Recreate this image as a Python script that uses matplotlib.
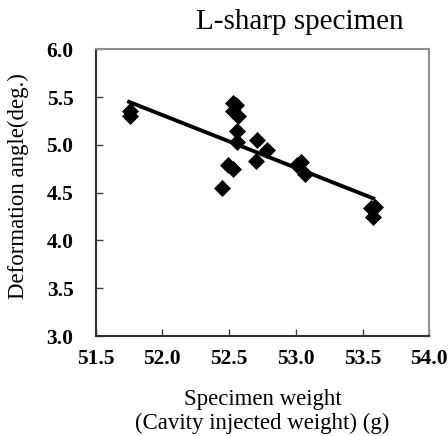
import matplotlib.pyplot as plt
import numpy as np

weight = np.array([51.76, 51.76, 52.53, 52.55, 52.53, 52.57, 52.56, 52.56,
                   52.71, 52.78, 52.70, 52.49, 52.53, 52.45, 53.04, 53.01,
                   53.07, 53.56, 53.59, 53.58])
angle = np.array([5.35, 5.30, 5.44, 5.42, 5.35, 5.30, 5.15, 5.03,
                  5.05, 4.95, 4.83, 4.79, 4.75, 4.55, 4.82, 4.79,
                  4.69, 4.34, 4.35, 4.24])

# trend line as drawn in the original (end points)
trend_x = [51.75, 53.58]
trend_y = [5.45, 4.44]

xticks = [51.5, 52.0, 52.5, 53.0, 53.5, 54.0]
yticks = [3.0, 3.5, 4.0, 4.5, 5.0, 5.5, 6.0]

plt.rcParams['font.family'] = ['Liberation Serif', 'DejaVu Serif']

fig = plt.figure(figsize=(4.48, 4.36), dpi=100)
ax = fig.add_axes([95.7 / 448, 1 - 336 / 436, (429.3 - 95.7) / 448, (336 - 49.3) / 436])

ax.scatter(weight, angle, marker='D', s=75, color='black', zorder=3, linewidths=0)
ax.plot(trend_x, trend_y, color='black', lw=2.8, zorder=2)

ax.set_xlim(51.5, 54.0)
ax.set_ylim(3.0, 6.0)
ax.set_xticks(xticks)
ax.set_yticks(yticks)
ax.set_xticklabels([f'{v:.1f}' for v in xticks], fontweight='bold', fontsize=15.5)
ax.set_yticklabels([f'{v:.1f}' for v in yticks], fontweight='bold', fontsize=15.5)
ax.tick_params(direction='in', length=5, width=1, color='#404040')
ax.tick_params(axis='x', pad=9)
ax.tick_params(axis='y', pad=16)

for s in ['left', 'bottom']:
    ax.spines[s].set_color('#303030')
    ax.spines[s].set_linewidth(1.5)
for s in ['top', 'right']:
    ax.spines[s].set_color('#909090')
    ax.spines[s].set_linewidth(1.5)

ax.set_xlabel('Specimen weight\n(Cavity injected weight) (g)', fontsize=16.5, linespacing=1.15, labelpad=15)
ax.set_ylabel('Deformation angle(deg.)', fontsize=16.5)
ax.yaxis.set_label_coords(29 / 448, 1 - 186 / 436, transform=fig.transFigure)
fig.text(300 / 448, 1 - 22 / 436, 'L-sharp specimen', fontsize=21, ha='center', va='center')

fig.savefig('out.png', dpi=100)
